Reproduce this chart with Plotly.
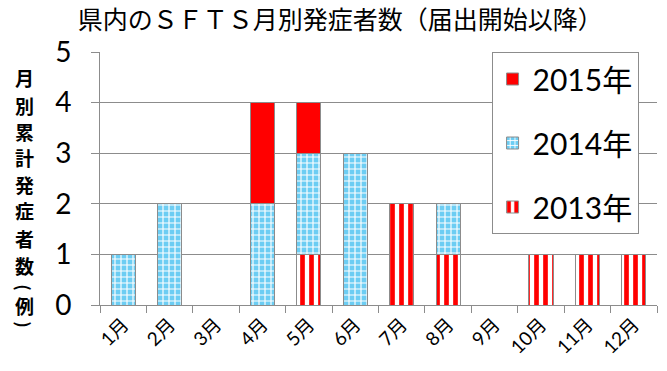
import plotly.graph_objects as go

months = ["1月", "2月", "3月", "4月", "5月", "6月", "7月", "8月", "9月", "10月", "11月", "12月"]
cases_2013 = [0, 0, 0, 0, 1, 0, 2, 1, 0, 1, 1, 1]
cases_2014 = [1, 2, 0, 2, 2, 3, 0, 1, 0, 0, 0, 0]
cases_2015 = [0, 0, 0, 2, 1, 0, 0, 0, 0, 0, 0, 0]

title_text = "県内のＳＦＴＳ月別発症者数（届出開始以降）"
ytitle_chars = ["月", "別", "累", "計", "発", "症", "者", "数", "(", "例", ")"]

FONT = "Lato, 'Noto Sans CJK JP', sans-serif"
GRAY = "#8c8c8c"

fig = go.Figure()
fig.add_trace(go.Bar(
    x=months, y=cases_2013, name="2013年", legendgroup="a", legendrank=3,
    marker=dict(color="white", line=dict(color=GRAY, width=1),
                pattern=dict(shape="|", fgcolor="#ff0000", bgcolor="white", size=9,
                             solidity=0.52, fgopacity=1, fillmode="replace")),
))
fig.add_trace(go.Bar(
    x=months, y=cases_2014, name="2014年", legendgroup="b", legendrank=2,
    marker=dict(color="#6ccdf3", line=dict(color=GRAY, width=1),
                pattern=dict(shape="+", fgcolor="white", bgcolor="#6ccdf3", size=6,
                             solidity=0.35, fgopacity=1, fillmode="replace")),
))
fig.add_trace(go.Bar(
    x=months, y=cases_2015, name="2015年", legendgroup="c", legendrank=1,
    marker=dict(color="#ff0000", line=dict(color=GRAY, width=1)),
))

# vertical y-axis title, one character per line (parentheses rotated)
ypix = [78, 105, 131, 157, 184, 211, 238, 265, 287, 305, 324]
for ch, py in zip(ytitle_chars, ypix):
    paren = ch in ("(", ")")
    fig.add_annotation(
        text=f"<b>{ch}</b>", x=-0.135, xref="paper", xanchor="center",
        y=(305 - py) / 253, yref="paper", yanchor="middle",
        showarrow=False, textangle=90 if paren else 0,
        font=dict(family="'Noto Sans CJK JP'", size=17 if paren else 19, color="black"),
    )

fig.update_layout(
    width=667, height=371,
    margin=dict(l=100, r=10, t=52, b=66),
    paper_bgcolor="white", plot_bgcolor="white",
    barmode="stack", bargap=0.48,
    font=dict(family=FONT, color="black"),
    title=dict(text=title_text, x=0.51, xanchor="center", y=0.945, yanchor="middle",
               font=dict(family="'Noto Sans CJK JP'", size=25, color="black")),
    legend=dict(
        traceorder="grouped", x=0.703, xanchor="left", y=1.0, yanchor="top",
        bgcolor="white", bordercolor=GRAY, borderwidth=1,
        font=dict(family=FONT, size=30, color="black"),
        tracegroupgap=22, itemwidth=30,
    ),
    showlegend=True,
)
fig.update_xaxes(
    type="category", showline=True, linecolor=GRAY, linewidth=1,
    ticks="outside", tickson="boundaries", ticklen=7, tickcolor=GRAY,
    tickangle=-45, tickfont=dict(family=FONT, size=19, color="black"),
    showgrid=False,
)
fig.update_yaxes(
    range=[0, 5], dtick=1, showline=True, linecolor=GRAY, linewidth=1,
    ticks="outside", ticklen=8, tickcolor=GRAY, ticklabelstandoff=14,
    showgrid=True, gridcolor=GRAY, gridwidth=1,
    tickfont=dict(family=FONT, size=28, color="black"), zeroline=False,
)

fig.write_html("out.html")
